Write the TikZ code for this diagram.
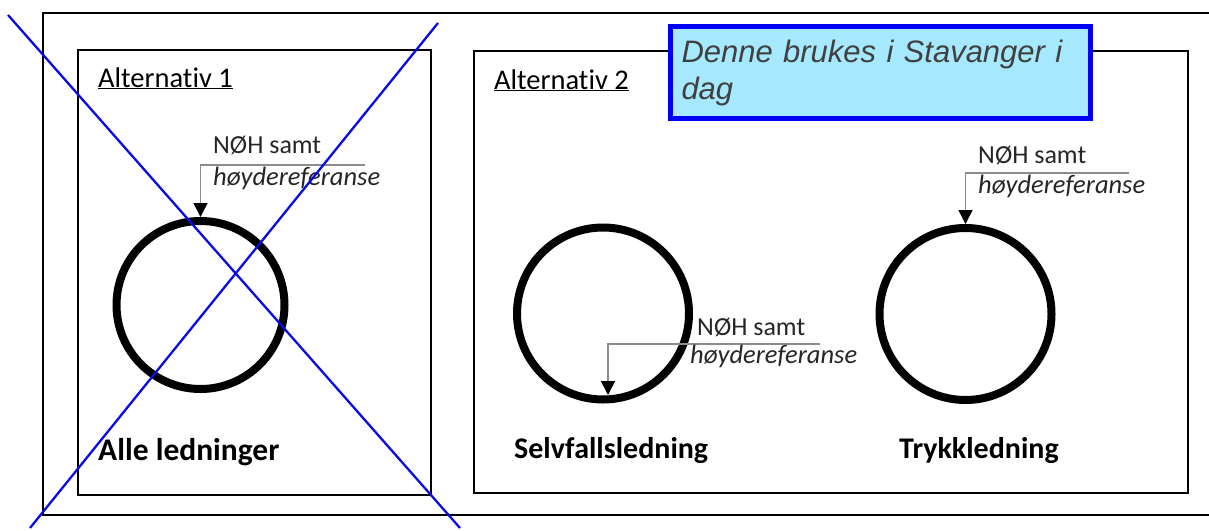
\documentclass[tikz,border=0pt]{standalone}
\usepackage{fontspec}
\setmainfont{Carlito}[Ligatures={NoCommon,NoContextual}]
\newfontfamily\arialfont{Liberation Sans}
\usetikzlibrary{arrows.meta,calc}
\definecolor{crossblue}{RGB}{10,10,230}
\definecolor{boxfill}{RGB}{166,232,254}
\definecolor{boxedge}{RGB}{0,0,245}
\definecolor{anngray}{RGB}{140,140,140}
\definecolor{notetext}{RGB}{64,64,64}
\begin{document}
\begin{tikzpicture}[x=1pt,y=-1pt,
  boxframe/.style={draw=black,line width=2.3pt},
  pipe/.style={circle,draw=black,line width=8pt,inner sep=0pt},
  ann/.style={draw=anngray,line width=1.5pt,-{Triangle[width=14pt,length=14pt,color=black]}},
  lab/.style={font=\fontsize{26}{30}\selectfont,inner sep=0pt,anchor=base west,text=black!85},
  labit/.style={lab,font=\fontsize{26.5}{30}\selectfont\itshape},
  alttitle/.style={font=\fontsize{28.5}{34}\selectfont,inner sep=0pt,anchor=base west},
  pipename/.style={font=\fontsize{30}{36}\selectfont\bfseries,inner sep=0pt,anchor=base west},
  notebox/.style={draw=boxedge,fill=boxfill,line width=5pt,minimum width=419pt,minimum height=92pt,
    text width=397pt,inner xsep=11.5pt,inner ysep=0pt,align=left,text=notetext,
    font=\arialfont\itshape\fontsize{31}{37}\selectfont},
  strike/.style={draw=crossblue,line width=2.3pt}]
\useasboundingbox (0,0) rectangle (1209,530);
% outer frame
\draw[boxframe] (1215,13) -- (43,13) -- (43,515) -- (1215,515);
% panels
\draw[boxframe] (78,50) rectangle (431,495);
\draw[boxframe] (474,51) rectangle (1188,493);
% titles
\node[alttitle] (a1) at (98,87) {\underline{Alternativ 1}};
\node[alttitle] (a2) at (494,89) {\underline{Alternativ 2}};
% pipes
\node[pipe,minimum size=168pt] (c1) at (200.5,305) {};
\node[pipe,minimum size=172pt] (c2) at (603,313.5) {};
\node[pipe,minimum size=172pt] (c3) at (965.5,314) {};
% annotations
\coordinate (e1) at (365,165);
\draw[ann] (e1) -| (c1.north);
\node[lab] (n1) at (213,153) {NØH samt};
\node[labit] (h1) at (213,185) {høydereferanse};
\coordinate (e2) at (820,344);
\coordinate (t2) at (608,395);
\draw[ann] (e2) -| (t2);
\node[lab] (n2) at (697,335) {NØH samt};
\node[labit] (h2) at (690,363) {høydereferanse};
\coordinate (e3) at (1129,173);
\draw[ann] (e3) -| (c3.north);
\node[lab] (n3) at (978,163) {NØH samt};
\node[labit] (h3) at (978,193) {høydereferanse};
% names
\node[pipename,font=\fontsize{31.5}{37}\selectfont\bfseries] (p1) at (98,460) {Alle ledninger};
\node[pipename] (p2) at (514,458) {Selvfallsledning};
\node[pipename] (p3) at (899,458) {Trykkledning};
% note
\node[notebox] (note) at (880,72.5) {Denne brukes i Stavanger i\\dag};
% cross
\coordinate (x1a) at (8,15);
\coordinate (x1b) at (460,528);
\coordinate (x2a) at (438,23);
\coordinate (x2b) at (30,528);
\draw[strike] (x1a) -- (x1b);
\draw[strike] (x2a) -- (x2b);
\end{tikzpicture}
\end{document}
